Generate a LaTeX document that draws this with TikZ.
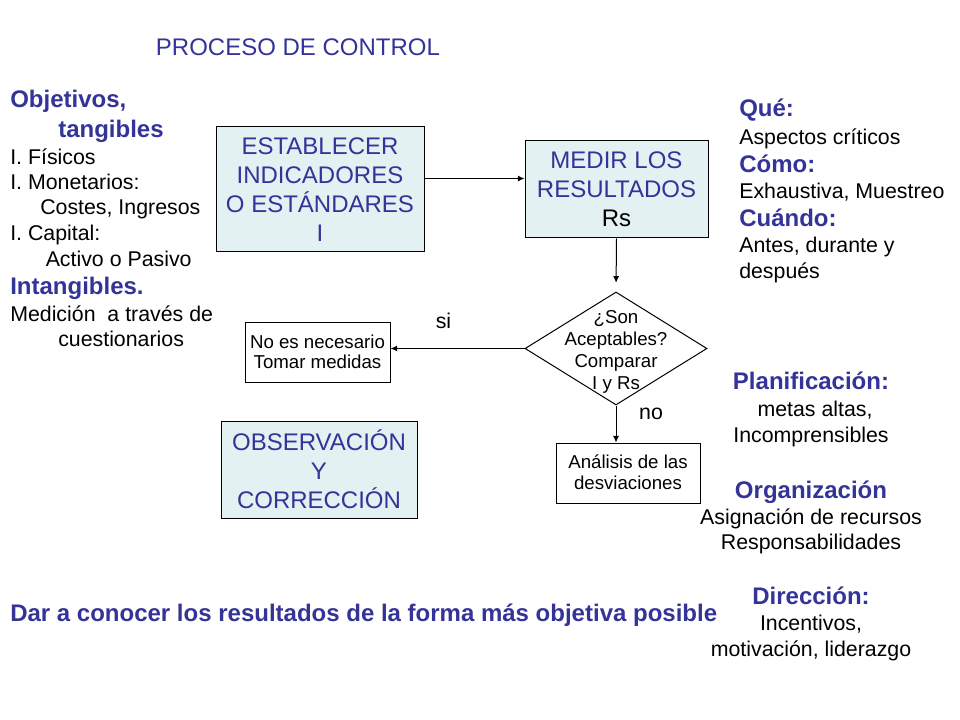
\documentclass[tikz,border=0pt]{standalone}
\usepackage{fontspec}
\setmainfont{Liberation Sans}
\usepackage{tikz}
\usetikzlibrary{shapes,arrows.meta}
\definecolor{azul}{RGB}{51,51,153}
\definecolor{fondo}{RGB}{227,241,242}
\tikzset {
    style A/.style={
        fill=fondo,
        draw=black,
        line width=0.75pt,
        rectangle, % caja azul
        text=azul,
        font=\fontsize{18}{21.75}\selectfont,
        inner sep=0pt,
        align=center,
    },
    style B/.style={
        fill=white,
        draw=black,
        line width=0.75pt,
        rectangle, % caja blanca
        font=\fontsize{14}{15}\selectfont,
        inner sep=0pt,
        align=center,
    },
    style C/.style={
        draw=black,
        line width=0.75pt,
        diamond, % pregunta
        inner sep=0pt,
    },
    style H/.style={
        anchor=base west,
        text=azul,
        font=\bfseries\fontsize{18}{21}\selectfont,
        inner sep=0pt,
    },
    style T/.style={
        anchor=base west,
        font=\fontsize{16}{19}\selectfont,
        inner sep=0pt,
    },
    flecha/.style={
        line width=0.75pt,
        -{Latex[length=5pt,width=4.5pt]},
    },
}
\begin{document}
\begin{tikzpicture}[x=0.75pt,y=-0.75pt]
        \useasboundingbox (0,0) rectangle (960,720);

        \node[style T, anchor=base, text=azul, font=\fontsize{18}{21}\selectfont] (titulo) at (298,56) {PROCESO DE CONTROL};

        % columna izquierda
        \node[style H] (objetivos) at (10,108) {Objetivos,};
        \node[style H] (tangibles) at (58,138) {tangibles};
        \node[style T] (fisicos) at (10,165) {I. Físicos};
        \node[style T] (monetarios) at (10,190) {I. Monetarios:};
        \node[style T] (costes) at (40,215) {Costes, Ingresos};
        \node[style T] (capital) at (10,241) {I. Capital:};
        \node[style T] (activo) at (45.5,267) {Activo o Pasivo};
        \node[style H] (intangibles) at (10,295) {Intangibles.};
        \node[style T] (medicion) at (10,321) {Medición~ a través de};
        \node[style T] (cuestionarios) at (58,346) {cuestionarios};

        % columna derecha
        \node[style H] (que) at (739,117) {Qué:};
        \node[style T] (aspectos) at (739,144.5) {Aspectos críticos};
        \node[style H] (como) at (739,172.5) {Cómo:};
        \node[style T] (exhaustiva) at (739,198.5) {Exhaustiva, Muestreo};
        \node[style H] (cuando) at (739,226.5) {Cuándo:};
        \node[style T] (antes) at (739,253) {Antes, durante y};
        \node[style T] (despues) at (739,278.5) {después};

        \node[style H, anchor=base] (planificacion) at (811,389) {Planificación:};
        \node[style T, anchor=base] (metas) at (815,416.5) {metas altas,};
        \node[style T, anchor=base] (incomprensibles) at (811,442.5) {Incomprensibles};
        \node[style H, anchor=base] (organizacion) at (811,498.5) {Organización};
        \node[style T, anchor=base] (asignacion) at (811,524.5) {Asignación de recursos};
        \node[style T, anchor=base] (responsabilidades) at (811,549.5) {Responsabilidades};
        \node[style H, anchor=base] (direccion) at (811,604) {Dirección:};
        \node[style T, anchor=base] (incentivos) at (811,630) {Incentivos,};
        \node[style T, anchor=base] (motivacion) at (811,656) {motivación, liderazgo};

        \node[style H] (darConocer) at (10,621) {Dar a conocer los resultados de la forma más objetiva posible};

        % diagrama
        \node[style A, minimum width=156pt, minimum height=93.75pt] (establecer) at (320,189.5) {ESTABLECER\\INDICADORES\\O ESTÁNDARES\\I};
        \node[style A, minimum width=137.25pt, minimum height=72.75pt] (medir) at (616.5,189.5) {MEDIR LOS\\RESULTADOS\\\textcolor{black}{Rs}};
        \node[style C, minimum width=136.5pt, minimum height=84.75pt] (comparar) at (616,348.5) {};
        \node[align=center, inner sep=0pt, font=\fontsize{14}{16.5}\selectfont] (compararTexto) at (616,352) {¿Son\\Aceptables?\\Comparar\\I y Rs};
        \node[style B, minimum width=108.75pt, minimum height=45pt] (noNecesario) at (317.5,352) {No es necesario\\Tomar medidas};
        \node[style B, minimum width=108pt, minimum height=45.4pt] (analisis) at (628,473.3) {\raisebox{3pt}{Análisis de las}\\\raisebox{2pt}{desviaciones}};
        \node[style A, minimum width=147pt, minimum height=72.75pt] (observacion) at (319,469.5) {OBSERVACIÓN\\Y\\CORRECCIÓN};

        \node[style T, anchor=base] (si) at (443.5,328) {si};
        \node[style T, anchor=base] (no) at (651,419) {no};

        \draw[flecha] ([yshift=8.25pt]establecer.east) -- ([yshift=8.25pt]medir.west);
        \draw[flecha, shorten >=6.5pt] (medir.south) -- (comparar.north);
        \draw[flecha] (comparar.west) -- (comparar.west -| noNecesario.east);
        \draw[flecha] (comparar.south) -- (comparar.south |- analisis.north);
    \end{tikzpicture}
\end{document}
